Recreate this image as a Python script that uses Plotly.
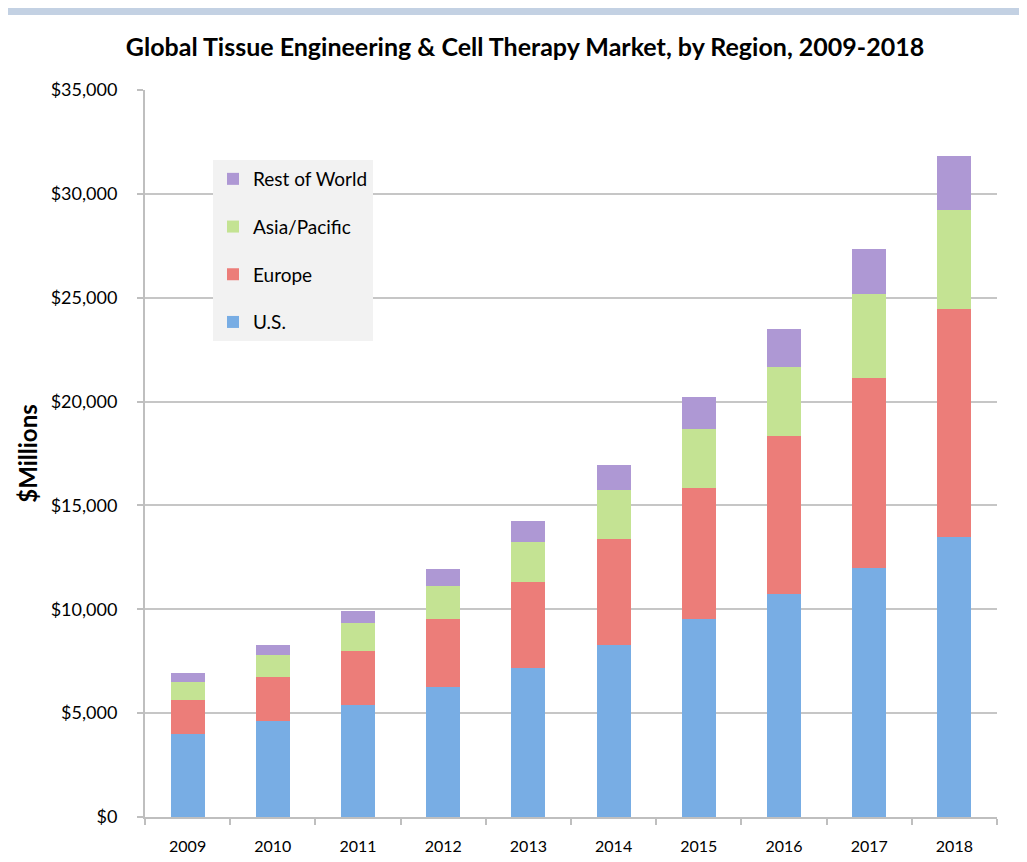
import plotly.graph_objects as go

years = ["2009", "2010", "2011", "2012", "2013", "2014", "2015", "2016", "2017", "2018"]
us = [4000, 4640, 5390, 6240, 7180, 8280, 9550, 10720, 12000, 13460]
europe = [1630, 2090, 2610, 3270, 4120, 5100, 6300, 7620, 9150, 11000]
asia_pacific = [870, 1080, 1330, 1630, 1940, 2360, 2830, 3340, 4010, 4770]
rest_of_world = [430, 470, 590, 800, 1010, 1210, 1560, 1820, 2170, 2600]

series = [
    ("U.S.", us, "#78ade4", 4),
    ("Europe", europe, "#ec7d79", 3),
    ("Asia/Pacific", asia_pacific, "#c4e393", 2),
    ("Rest of World", rest_of_world, "#ae98d4", 1),
]

FONT = "Lato, 'Open Sans', sans-serif"

fig = go.Figure()
for name, vals, color, rank in series:
    fig.add_trace(go.Bar(
        x=years, y=vals, name=name, legendgroup=name, legendrank=rank,
        marker=dict(color=color, line=dict(width=0)),
    ))

OFF = 8  # page body margin
W, H = 1027 - OFF, 862 - OFF
# target plot area in screen pixels: x 145..997, y 90..817
ml, mr = 145 - OFF, (1027 - OFF) - (997 - OFF)
mt, mb = 90 - OFF, H - (817 - OFF)
pw, ph = W - ml - mr, H - mt - mb

def px_x(sx):
    return (sx - OFF - ml) / pw

def px_y(sy):
    return (H - mb - (sy - OFF)) / ph

fig.update_layout(
    width=W, height=H,
    barmode="stack", bargap=0.6,
    margin=dict(l=ml, r=mr, t=mt, b=mb, autoexpand=False),
    paper_bgcolor="white", plot_bgcolor="white",
    font=dict(family=FONT, color="#000000"),
    title=dict(
        text="<b>Global Tissue Engineering & Cell Therapy Market, by Region, 2009-2018</b>",
        x=(525 - OFF) / W, xanchor="center", y=1 - (47 - OFF) / H, yanchor="middle",
        font=dict(size=25, family=FONT, color="#000000"),
    ),
    legend=dict(
        x=px_x(213), y=px_y(160), xanchor="left", yanchor="top",
        bgcolor="#f2f2f2", borderwidth=0,
        traceorder="grouped", tracegroupgap=20,
        font=dict(size=19, family=FONT, color="#000000"),
        itemwidth=30,
    ),
    xaxis=dict(
        automargin=False,
        showline=True, linecolor="#bfbfbf", linewidth=2,
        ticks="outside", tickson="boundaries", ticklen=6, tickcolor="#bfbfbf", tickwidth=1.5,
        tickfont=dict(size=16, family=FONT, color="#000000"),
        ticklabelstandoff=14,
        showgrid=False,
    ),
    yaxis=dict(
        automargin=False,
        range=[0, 35000], dtick=5000, tickprefix="$", tickformat=",",
        showline=True, linecolor="#bfbfbf", linewidth=2,
        showgrid=True, gridcolor="#c6c6c6", gridwidth=2,
        ticks="outside", ticklen=6, tickcolor="#bfbfbf", tickwidth=2,
        tickfont=dict(size=18, family=FONT, color="#000000"),
        ticklabelstandoff=16,
        title=dict(text="<b>$Millions</b>", font=dict(size=24, family=FONT, color="#000000"), standoff=6),
        zeroline=False,
    ),
    shapes=[
        dict(type="rect", xref="paper", yref="paper", layer="below",
             x0=px_x(OFF), x1=px_x(1027), y0=px_y(15), y1=px_y(OFF),
             fillcolor="#c3d1e3", line=dict(width=0)),
    ],
)

fig.write_html("out.html")
